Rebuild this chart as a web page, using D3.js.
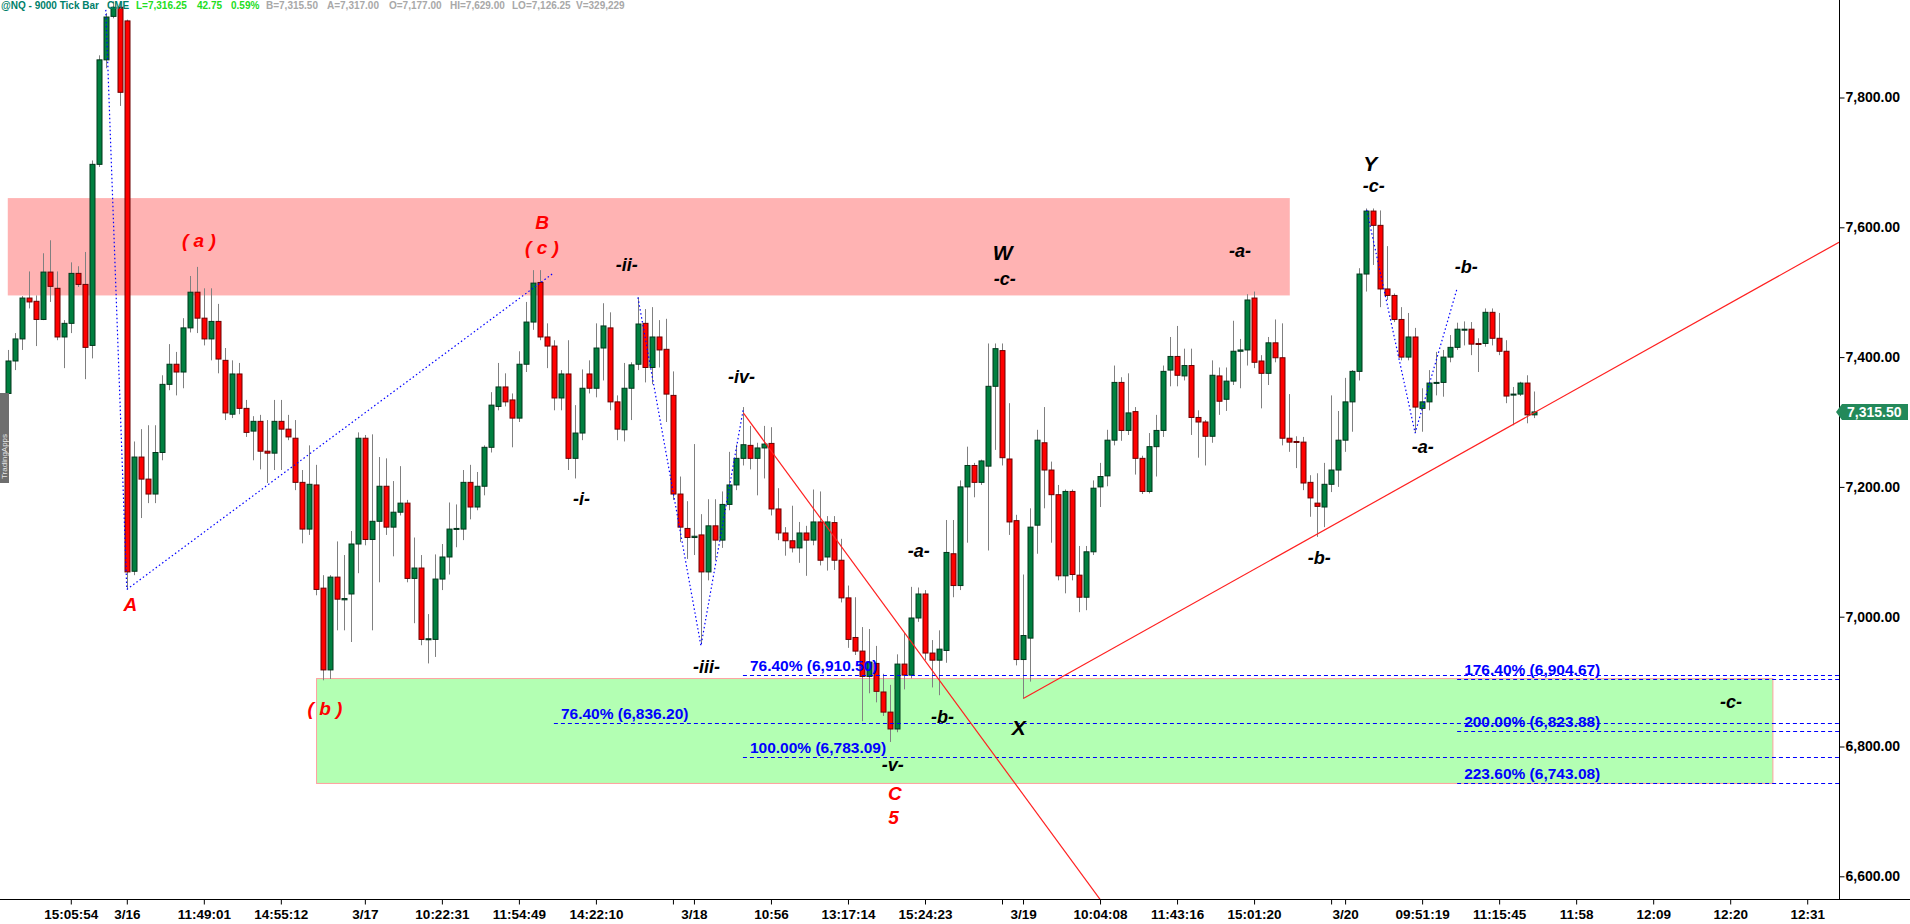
<!DOCTYPE html>
<html><head><meta charset="utf-8">
<script src="https://cdn.jsdelivr.net/npm/d3@7"></script>
<style>body{margin:0;background:#fff;overflow:hidden}svg{display:block}</style>
</head><body>
<svg id="chart" width="1910" height="924"></svg>
<script>
// ---------- DATA ----------
const opens = [7344,7394,7428,7491,7486,7458,7531,7506,7431,7452,7529,7512,7418,7697,7858,7925,7939,7918,7070,7246,
7212,7189,7253,7358,7389,7377,7445,7500,7460,7428,7455,7395,7312,7374,7321,7286,7301,7255,7252,7301,
7289,7275,7207,7135,7203,7044,6918,7061,7026,7035,7112,7275,7119,7147,7201,7138,7161,7175,7059,7075,
6965,6965,7058,7092,7135,7135,7207,7169,7201,7261,7324,7354,7334,7306,7389,7454,7515,7431,7417,7337,
7374,7244,7283,7374,7352,7414,7445,7331,7288,7352,7389,7452,7384,7431,7412,7341,7189,7136,7122,7126,
7069,7140,7118,7173,7203,7244,7264,7244,7260,7267,7166,7129,7117,7106,7129,7118,7146,7092,7145,7087,
7029,6968,6947,6908,6928,6884,6853,6827,6927,6910,6998,7035,6944,6933,6948,7097,7048,7200,7233,7207,
7232,7355,7410,7243,7148,6934,6967,7141,7268,7226,7188,7063,7193,7064,7030,7100,7200,7217,7272,7361,
7287,7316,7244,7193,7262,7287,7380,7401,7371,7387,7307,7300,7278,7371,7335,7363,7409,7411,7491,7394,
7375,7422,7399,7275,7270,7269,7207,7175,7169,7204,7226,7272,7331,7378,7528,7625,7603,7505,7495,7458,
7400,7431,7321,7331,7360,7361,7400,7415,7443,7443,7421,7421,7469,7429,7409,7343,7343,7360,7311];
const highs = [7411,7437,7494,7532,7495,7560,7580,7532,7457,7546,7540,7562,7703,7865,7930,7948,7948,7920,7270,7289,
7295,7295,7372,7420,7408,7460,7525,7539,7506,7506,7482,7414,7395,7391,7334,7309,7311,7303,7334,7334,
7311,7303,7226,7264,7234,7064,7064,7116,7095,7132,7284,7280,7281,7246,7244,7209,7232,7180,7122,7095,
7004,7096,7112,7176,7173,7226,7234,7223,7264,7346,7391,7375,7344,7409,7485,7534,7534,7452,7426,7380,
7426,7326,7381,7395,7452,7483,7469,7341,7391,7392,7492,7474,7477,7457,7459,7378,7216,7178,7266,7158,
7181,7181,7193,7254,7265,7323,7294,7268,7294,7292,7198,7138,7171,7146,7140,7196,7193,7155,7155,7120,
7048,7030,6984,6981,6955,6912,6895,6942,6975,7046,7045,7041,6964,6979,7149,7149,7210,7262,7237,7242,
7421,7421,7421,7329,7157,7065,7167,7288,7323,7239,7203,7196,7196,7109,7109,7210,7237,7288,7387,7369,
7375,7323,7248,7283,7311,7387,7431,7448,7413,7413,7318,7303,7395,7384,7384,7456,7428,7497,7501,7403,
7431,7458,7452,7343,7278,7277,7218,7221,7237,7341,7317,7368,7380,7537,7629,7629,7626,7571,7498,7477,
7468,7445,7352,7380,7408,7411,7434,7453,7455,7454,7429,7475,7475,7468,7426,7354,7362,7372,7347];
const lows = [7337,7380,7411,7475,7417,7457,7485,7426,7383,7437,7508,7366,7398,7693,7845,7922,7787,7042,7064,7152,
7175,7175,7241,7349,7341,7352,7438,7437,7418,7395,7375,7303,7306,7312,7277,7241,7227,7206,7226,7226,
7272,7195,7113,7126,7033,6902,6904,6979,6979,6961,7067,7110,6979,7053,7126,7093,7156,7053,6990,6956,
6928,6938,7041,7065,7107,7118,7150,7164,7187,7253,7318,7324,7261,7300,7377,7442,7426,7383,7318,7318,
7226,7213,7272,7344,7338,7364,7318,7272,7270,7303,7380,7361,7358,7384,7300,7180,7115,7089,7095,6958,
7056,7087,7106,7164,7195,7233,7227,7187,7213,7156,7118,7094,7099,7083,7063,7110,7079,7071,7072,7022,
6952,6941,6839,6882,6868,6847,6807,6822,6888,6905,6992,6933,6891,6879,6929,7030,7041,7114,7184,7203,
7102,7257,7233,7126,6925,6874,6900,7097,7167,7114,7056,7036,7056,7007,7010,7095,7169,7201,7264,7271,
7280,7219,7189,7190,7216,7277,7355,7355,7364,7280,7245,7233,7268,7311,7317,7357,7352,7387,7383,7321,
7357,7392,7264,7254,7229,7195,7154,7123,7138,7192,7200,7254,7285,7364,7501,7542,7477,7488,7454,7395,
7395,7283,7285,7318,7341,7339,7392,7411,7418,7403,7377,7416,7418,7403,7329,7295,7340,7298,7306];
const closes = [7394,7428,7491,7485,7458,7531,7509,7431,7452,7529,7512,7415,7697,7858,7924,7939,7808,7069,7246,7212,
7189,7253,7358,7389,7377,7445,7500,7460,7428,7455,7397,7314,7374,7321,7284,7301,7255,7252,7301,7289,
7277,7207,7135,7204,7042,6918,7061,7027,7028,7112,7275,7119,7147,7201,7138,7161,7175,7059,7075,6965,
6966,7058,7092,7135,7136,7207,7169,7201,7261,7326,7354,7331,7306,7389,7454,7514,7431,7417,7337,7374,
7244,7283,7352,7352,7414,7448,7331,7289,7352,7388,7451,7384,7431,7411,7343,7189,7138,7122,7124,7069,
7140,7118,7173,7203,7244,7265,7244,7260,7266,7166,7129,7117,7106,7129,7118,7146,7087,7146,7087,7029,
6965,6947,6908,6930,6885,6853,6827,6927,6910,6998,7035,6944,6933,6950,7099,7048,7200,7233,7207,7240,
7355,7413,7245,7146,6934,6971,7138,7272,7226,7188,7063,7193,7065,7030,7100,7198,7216,7272,7361,7287,
7314,7244,7193,7262,7287,7378,7401,7372,7387,7307,7300,7278,7372,7332,7363,7409,7411,7488,7392,7375,
7422,7399,7275,7269,7269,7206,7183,7170,7204,7226,7272,7331,7378,7528,7625,7603,7505,7495,7458,7400,
7431,7323,7331,7360,7361,7400,7415,7443,7443,7420,7420,7469,7429,7409,7340,7343,7360,7311,7315.5];

const priceTicks = [6600, 6800, 7000, 7200, 7400, 7600, 7800];
const timeTickBars = [9,17,28,39,51,62,73,84,95,98,109,120,131,142,145,156,167,178,189,191,202,213,224,235,246,257];
const timeTickLabels = ["15:05:54","3/16","11:49:01","14:55:12","3/17","10:22:31","11:54:49","14:22:10","","3/18","10:56","13:17:14","15:24:23","","3/19","10:04:08","11:43:16","15:01:20","","3/20","09:51:19","11:15:45","11:58","12:09","12:20","12:31"];

// zones: [startBar, endBar, lowPrice, highPrice]
const resistanceZone = [0, 183.1, 7495, 7645];
const supportZone = [44.1, 252.1, 6743.08, 6904.67];

// fib levels
const fibLabels = ["76.40% (6,910.50)", "76.40% (6,836.20)", "100.00% (6,783.09)", "176.40% (6,904.67)", "200.00% (6,823.88)", "223.60% (6,743.08)"];
const fibPrices = [6910.50, 6836.20, 6783.09, 6904.67, 6823.88, 6743.08];
const fibStartBars = [105, 78, 105, 207, 207, 207];

// wave paths (bar, price)
const pathA1 = [[14, 7935], [17, 7042]];
const pathA2 = [[17, 7042], [78, 7530]];
const pathMinor = [[90, 7492], [99, 6955], [105.05, 7320]];
const pathY = [[194.08, 7627], [201, 7283], [207, 7506]];
const trendDown = [[105.05, 7314], [156.1, 6563]];
const trendUp = [[145.04, 6874], [261.54, 7577]];

// wave labels
const labelTexts = ["( a )","B","( c )","A","( b )","C","5","-ii-","-i-","-iii-","-iv-","-v-","-a-","-b-","W","-c-","X","-a-","Y","-c-","-b-","-a-","-b-","-c-"];
const labelBars = [27.3,76.3,76.3,17.5,45.3,126.7,126.5,88.4,81.95,99.8,104.8,126.4,130.1,133.5,142.1,142.4,144.4,176,194.6,195.1,208.3,202.1,187.3,246.1];
const labelPrices = [7580,7608,7569,7019,6859,6728,6690,7542,7181,6923,7369,6772,7101,6846,7561,7520,6830,7563,7699,7664,7539,7262,7091,6869];
const labelRed = [1,1,1,1,1,1,1,0,0,0,0,0,0,0,0,0,0,0,0,0,0,0,0,0];

const lastPrice = 7315.50;

// ---------- CHART ----------
const W = 1910, H = 924, plotR = 1839, plotB = 899;
const svg = d3.select("#chart");
const font = "'Liberation Sans', Arial, sans-serif";
svg.append("rect").attr("width", W).attr("height", H).attr("fill", "#fff");

const x = d3.scaleLinear().domain([-1.11, 261.54]).range([0, plotR]);
const y = d3.scaleLinear().domain([6600, 7800]).range([876.3, 97.5]);

svg.append("defs").append("clipPath").attr("id", "clip")
  .append("rect").attr("x", 0).attr("y", 0).attr("width", plotR).attr("height", plotB);
const g = svg.append("g").attr("clip-path", "url(#clip)");

// zones
g.append("rect")
  .attr("x", x(resistanceZone[0])).attr("width", x(resistanceZone[1]) - x(resistanceZone[0]))
  .attr("y", y(resistanceZone[3])).attr("height", y(resistanceZone[2]) - y(resistanceZone[3]))
  .attr("fill", "#ffb3b3");
g.append("rect")
  .attr("x", x(supportZone[0])).attr("width", x(supportZone[1]) - x(supportZone[0]))
  .attr("y", y(supportZone[3])).attr("height", y(supportZone[2]) - y(supportZone[3]))
  .attr("fill", "#b3ffb3").attr("stroke", "#ff9f9f").attr("stroke-width", 1);

// candles
const idx = d3.range(opens.length);
g.append("g").selectAll("line").data(idx).join("line")
  .attr("x1", i => Math.round(x(i)) + 0.5).attr("x2", i => Math.round(x(i)) + 0.5)
  .attr("y1", i => y(highs[i])).attr("y2", i => y(lows[i]))
  .attr("stroke", "#808080").attr("stroke-width", 1);
g.append("g").selectAll("rect").data(idx).join("rect")
  .attr("x", i => Math.round(x(i)) - 2)
  .attr("width", 5)
  .attr("y", i => y(Math.max(opens[i], closes[i])))
  .attr("height", i => Math.max(1, Math.abs(y(opens[i]) - y(closes[i]))))
  .attr("fill", i => closes[i] >= opens[i] ? "#008040" : "#ff0000")
  .attr("stroke", i => closes[i] >= opens[i] ? "#00361b" : "#6a0000")
  .attr("stroke-width", 1);

// fib lines
const fibG = g.append("g");
fibPrices.forEach((p, k) => {
  fibG.append("line")
    .attr("x1", x(fibStartBars[k])).attr("x2", plotR)
    .attr("y1", Math.round(y(p)) + 0.5).attr("y2", Math.round(y(p)) + 0.5)
    .attr("stroke", "#0000ff").attr("stroke-width", 1).attr("stroke-dasharray", "4,3");
  fibG.append("text")
    .attr("x", x(fibStartBars[k]) + 7).attr("y", y(p) - 4)
    .attr("font-family", font).attr("font-size", 15.5).attr("font-weight", "bold").attr("fill", "#0000ff")
    .text(fibLabels[k]);
});

const line = d3.line().x(d => x(d[0])).y(d => y(d[1]));
[pathA1, pathA2, pathMinor, pathY].forEach(pts => {
  g.append("path").attr("d", line(pts)).attr("fill", "none")
    .attr("stroke", "#0000ff").attr("stroke-width", 1.2).attr("stroke-dasharray", "1.5,2.5");
});
[trendDown, trendUp].forEach(pts => {
  g.append("path").attr("d", line(pts)).attr("fill", "none")
    .attr("stroke", "#ff2020").attr("stroke-width", 1.2);
});

// wave labels
labelTexts.forEach((t, k) => {
  const big = ["W", "X", "Y"].includes(t);
  g.append("text")
    .attr("x", x(labelBars[k])).attr("y", y(labelPrices[k]))
    .attr("text-anchor", "middle").attr("dominant-baseline", "central")
    .attr("font-family", font).attr("font-style", "italic").attr("font-weight", "bold")
    .attr("font-size", labelRed[k] ? 19 : (big ? 21 : 18))
    .attr("fill", labelRed[k] ? "#ff0000" : "#000")
    .attr("xml:space", "preserve")
    .text(t);
});

// axes
const yAxis = d3.axisRight(y).tickValues(priceTicks).tickFormat(d3.format(",.2f")).tickSize(5).tickPadding(1);
const ya = svg.append("g").attr("transform", `translate(${plotR + 0.5},0)`).call(yAxis);
ya.select(".domain").remove();
ya.selectAll("text").attr("font-family", font).attr("font-weight", "bold").attr("font-size", 14).attr("fill", "#000");
ya.selectAll("line").attr("stroke", "#000");

const xAxis = d3.axisBottom(x).tickValues(timeTickBars).tickFormat((d, i) => timeTickLabels[i]).tickSize(5).tickPadding(5);
const xa = svg.append("g").attr("transform", `translate(0,${plotB + 0.5})`).call(xAxis);
xa.select(".domain").remove();
xa.selectAll("text").attr("font-family", font).attr("font-weight", "bold").attr("font-size", 13.5).attr("fill", "#000");
xa.selectAll("line").attr("stroke", "#000");

svg.append("line").attr("x1", plotR + 0.5).attr("x2", plotR + 0.5).attr("y1", 0).attr("y2", plotB)
  .attr("stroke", "#000").attr("stroke-width", 1);
svg.append("line").attr("x1", 0).attr("x2", W).attr("y1", plotB + 0.5).attr("y2", plotB + 0.5)
  .attr("stroke", "#000").attr("stroke-width", 1);

// last price tag
const ty = y(lastPrice);
svg.append("path")
  .attr("d", `M${plotR - 3},${ty} L${plotR + 3},${ty - 8} L${W - 2},${ty - 8} L${W - 2},${ty + 8} L${plotR + 3},${ty + 8} Z`)
  .attr("fill", "#23895a");
svg.append("text").attr("x", plotR + 8).attr("y", ty).attr("dominant-baseline", "central")
  .attr("font-family", font).attr("font-weight", "bold").attr("font-size", 14).attr("fill", "#fff")
  .text(d3.format(",.2f")(lastPrice));

// header
const hdr = svg.append("g").attr("font-family", font).attr("font-weight", "bold").attr("font-size", 10);
hdr.append("text").attr("x", 1).attr("y", 9).attr("fill", "#00806a").text("@NQ - 9000 Tick Bar");
hdr.append("text").attr("x", 107).attr("y", 9).attr("fill", "#00806a").text("CME");
const hdrItems = [["L=7,316.25", 136, "#22dd22"], ["42.75", 197, "#22dd22"], ["0.59%", 231, "#22dd22"],
  ["B=7,315.50", 266, "#a8a8a8"], ["A=7,317.00", 327, "#a8a8a8"], ["O=7,177.00", 389, "#a8a8a8"],
  ["HI=7,629.00", 450, "#a8a8a8"], ["LO=7,126.25", 512, "#a8a8a8"], ["V=329,229", 576, "#a8a8a8"]];
hdrItems.forEach(h => hdr.append("text").attr("x", h[1]).attr("y", 9).attr("fill", h[2]).text(h[0]));

// TradingApps tab
svg.append("rect").attr("x", 0).attr("y", 393).attr("width", 9).attr("height", 90).attr("fill", "#6e6e6e");
svg.append("text").attr("transform", "translate(7,479) rotate(-90)")
  .attr("font-family", font).attr("font-size", 8).attr("fill", "#e6e6e6").text("TradingApps");
</script>
</body></html>
